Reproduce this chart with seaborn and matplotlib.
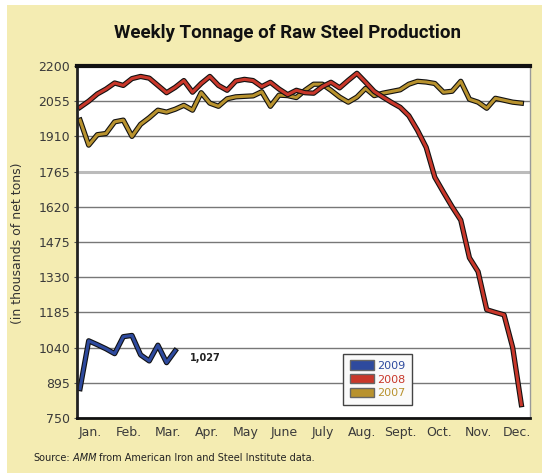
import matplotlib
matplotlib.use("Agg")
import pandas as pd
import matplotlib.pyplot as plt
import matplotlib.patheffects as pe
from matplotlib.patches import Patch, Rectangle
import seaborn as sns

# Datos (miles de toneladas netas por semana)
weeks = list(range(1, 53))
prod_2007 = [1977, 1874, 1917, 1922, 1970, 1977, 1910, 1960, 1987, 2018,
             2010, 2022, 2038, 2018, 2090, 2047, 2034, 2065, 2073, 2075,
             2077, 2094, 2034, 2080, 2078, 2070, 2100, 2125, 2125, 2100,
             2072, 2051, 2072, 2108, 2078, 2088, 2095, 2102, 2125, 2137,
             2134, 2128, 2092, 2096, 2137, 2063, 2051, 2026, 2067, 2059,
             2051, 2047]
prod_2008 = [2030, 2055, 2085, 2105, 2130, 2120, 2148, 2157, 2150, 2120,
             2090, 2112, 2140, 2092, 2128, 2157, 2120, 2100, 2138, 2145,
             2140, 2115, 2133, 2105, 2082, 2100, 2090, 2088, 2115, 2133,
             2110, 2141, 2170, 2133, 2095, 2072, 2050, 2030, 1995, 1935,
             1865, 1742, 1680, 1620, 1565, 1410, 1353, 1196, 1185, 1175,
             1040, 805]
weeks_2009 = list(range(1, 13))
prod_2009 = [871, 1068, 1052, 1035, 1015, 1085, 1090, 1010, 985, 1050, 978, 1027]

months = ['Jan.', 'Feb.', 'Mar.', 'Apr.', 'May', 'June', 'July', 'Aug.',
          'Sept.', 'Oct.', 'Nov.', 'Dec.']
y_ticks = list(range(750, 2201, 145))

colors = {'2007': '#B8922E', '2008': '#C8372A', '2009': '#2E4A9E'}

df = pd.concat([
    pd.DataFrame({'week': weeks, 'value': prod_2007, 'year': '2007'}),
    pd.DataFrame({'week': weeks, 'value': prod_2008, 'year': '2008'}),
    pd.DataFrame({'week': weeks_2009, 'value': prod_2009, 'year': '2009'}),
])

fig = plt.figure(figsize=(5.42, 4.73), dpi=100)
fig.patch.set_facecolor('white')
# fondo amarillo del recuadro
fig.patches.append(Rectangle((7 / 542, 0), 1, 1 - 5 / 473, transform=fig.transFigure,
                             facecolor='#F4ECB2', edgecolor='none', zorder=-10))

ax = fig.add_axes([77 / 542, 55 / 473, 453 / 542, 352 / 473])
ax.set_facecolor('white')

sns.lineplot(data=df, x='week', y='value', hue='year', palette=colors,
             linewidth=2.2, legend=False, ax=ax, sort=False)
for line in ax.lines:
    line.set_path_effects([pe.Stroke(linewidth=3.8, foreground='#111111'), pe.Normal()])
    line.set_solid_joinstyle('round')

ax.set_xlim(0.65, 53.0)
ax.set_ylim(750, 2200)
ax.set_yticks(y_ticks)
ax.set_xticks([2.2 + 4.48 * i for i in range(12)])
ax.set_xticklabels(months)
ax.set_xlabel('')
ax.set_ylabel('')

ax.yaxis.grid(True, color='#777777', linewidth=1)
ax.set_axisbelow(True)
ax.get_ygridlines()[7].set_color('#BBBBBB')
ax.get_ygridlines()[7].set_linewidth(2.2)

ax.spines['top'].set_linewidth(3)
ax.spines['top'].set_color('#111111')
ax.spines['left'].set_linewidth(2)
ax.spines['left'].set_color('#222222')
ax.spines['bottom'].set_linewidth(2)
ax.spines['bottom'].set_color('#111111')
ax.spines['right'].set_linewidth(1)
ax.spines['right'].set_color('#999999')

ax.tick_params(axis='y', length=2, color='#555555', labelsize=9, labelcolor='#3a3a3a', pad=3)
ax.tick_params(axis='x', length=0, labelsize=9, labelcolor='#3a3a3a', pad=6)

# etiqueta del ultimo valor
ax.annotate('1,027', xy=(weeks_2009[-1], prod_2009[-1]), xytext=(15, -7),
            textcoords='offset pixels', fontsize=7, fontweight='bold',
            color='#222222', va='center', ha='left')

# leyenda
handles = [Patch(facecolor=colors[y], edgecolor='#666666') for y in ['2009', '2008', '2007']]
leg = ax.legend(handles, ['2009', '2008', '2007'], loc='lower left',
                bbox_to_anchor=(0.587, 0.037), fontsize=8, frameon=True,
                fancybox=False, edgecolor='#444444', handlelength=2.2,
                handleheight=0.9, borderpad=0.6, labelspacing=0.3,
                handletextpad=0.3, borderaxespad=0)
for txt, y in zip(leg.get_texts(), ['2009', '2008', '2007']):
    txt.set_color(colors[y])
leg.get_frame().set_facecolor('#FAFAFA')
leg.get_frame().set_alpha(1)

# titulo y textos
fig.text(288 / 542, 1 - 33 / 473, 'Weekly Tonnage of Raw Steel Production',
         ha='center', va='center', fontsize=13.5, fontweight='bold',
         family='Roboto', color='#111111')
fig.text(18 / 542, 1 - 243 / 473, '(in thousands of net tons)', rotation=90,
         ha='center', va='center', fontsize=9, color='#333333')

src = fig.text(33 / 542, 1 - 458 / 473, 'Source:', fontsize=7, va='center', color='#222222')
amm = ax.annotate(' AMM', xy=(1, 0.5), xycoords=src, fontsize=7, style='italic',
                  va='center', ha='left', color='#222222', annotation_clip=False)
ax.annotate(' from American Iron and Steel Institute data.', xy=(1, 0.5), xycoords=amm,
            fontsize=7, va='center', ha='left', color='#222222', annotation_clip=False)

fig.savefig('out.png', dpi=100)
